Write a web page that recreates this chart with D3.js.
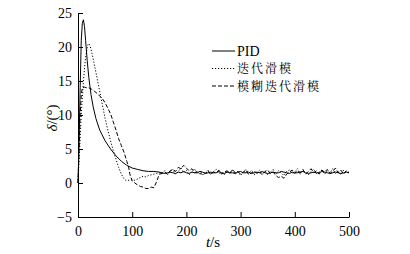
<!DOCTYPE html>
<html><head><meta charset="utf-8">
<script src="https://cdn.jsdelivr.net/npm/d3@7"></script>
<style>body{margin:0;background:#fff}svg{display:block}
.serif{font-family:"Liberation Serif",serif}
.cjk{font-family:"Noto Serif CJK SC","Noto Sans CJK SC",serif}
</style>
</head><body>
<svg id="c" width="410" height="254"></svg>
<script>
const xTicks = [0,100,200,300,400,500];
const yTicks = [-5,0,5,10,15,20,25];
const seriesNames = ["PID","迭代滑模","模糊迭代滑模"];

const tailT = d3.range(155, 501, 5);

const pidT = [0,2,4,6,8,10,12,14,17,20,24,28,33,40,50,60,70,80,90,100,110,120,130,140,150];
const pidV = [0,6,14,21,23.5,24,23,21,18,15.5,13,11.2,9.5,7.8,6.2,5,4,3.2,2.6,2.2,2.0,1.8,1.7,1.7,1.6];
const pidTail = [1.5,1.4,1.5,1.6,1.5,1.4,1.6,1.5,1.7,1.5,1.4,1.6,1.5,1.5,1.7,1.6,1.4,1.5,1.6,1.5,
1.5,1.7,1.5,1.4,1.6,1.5,1.5,1.4,1.6,1.7,1.5,1.5,1.6,1.4,1.5,1.6,1.5,1.7,1.5,1.4,
1.5,1.6,1.5,1.5,1.7,1.6,1.5,1.4,1.6,1.5,1.5,1.6,1.7,1.5,1.4,1.5,1.6,1.5,1.5,1.7,
1.6,1.5,1.4,1.5,1.6,1.5,1.4,1.5,1.6,1.5];

const ismT = [0,3,6,10,14,18,20,22,26,30,35,40,45,50,55,60,65,70,75,80,85,88,95,100,105,110,115,120,125,130,135,140,145,150];
const ismV = [0,5,10,15,18.5,20.3,20.5,20.3,19,17.5,15.5,13.5,11.5,9.5,7.8,6.2,4.8,3.5,2.3,1.3,0.6,0.4,0.4,0.5,0.4,0.6,0.8,1.0,0.9,1.1,1.2,1.3,1.4,1.5];
const ismTail = [1.4,1.8,1.2,1.6,2.0,1.3,1.7,2.2,1.5,1.9,1.2,1.6,2.1,1.4,1.8,1.1,1.5,1.9,1.3,1.7,
2.0,1.4,1.6,1.2,1.8,1.5,1.9,1.3,1.7,1.1,1.6,2.0,1.4,1.8,1.2,1.5,1.9,1.4,1.7,1.2,
1.6,2.0,1.3,1.8,1.5,1.1,1.7,1.9,1.4,1.6,2.1,1.3,1.8,1.5,1.2,1.7,2.0,1.4,1.6,1.9,
1.3,1.8,1.5,2.1,1.4,1.7,1.2,1.9,1.6,1.5];

const fismT = [0,2,4,6,8,12,16,20,25,30,35,40,45,50,55,60,65,70,75,80,85,90,93,96,100,105,110,115,120,125,130,135,140,145,150];
const fismV = [0,5,10,13,14,14.1,14,14,13.8,13.5,13.2,12.8,12.4,11.8,11,10.2,9,7.8,6.5,5.5,4.5,3.2,2.5,1.2,0.3,0,-0.3,-0.5,-0.6,-0.8,-0.8,-0.6,-0.7,0.2,1.3];
const fismTail = [1.4,1.6,1.3,1.8,2.0,1.7,2.3,2.1,2.6,2.2,1.8,2.1,1.5,1.7,1.3,1.6,1.4,1.8,1.2,1.6,
1.5,1.9,1.3,1.6,1.8,1.4,2.0,1.5,1.7,1.3,1.6,1.9,1.2,1.5,1.8,1.4,1.6,1.2,1.7,1.9,
1.4,1.6,1.1,0.8,1.0,0.7,1.3,1.6,1.9,1.4,1.8,1.5,2.0,1.3,1.7,2.1,1.5,1.8,1.3,1.9,
1.6,2.0,1.4,1.7,2.2,1.5,1.9,1.3,1.8,1.6];

function build(t, v, tail){
  return t.map((d,i)=>[d,v[i]]).concat(tailT.map((d,i)=>[d,tail[i]]));
}
const series = [
  {name: seriesNames[0], data: build(pidT,pidV,pidTail), dash: null},
  {name: seriesNames[1], data: build(ismT,ismV,ismTail), dash: "1.2,1.8"},
  {name: seriesNames[2], data: build(fismT,fismV,fismTail), dash: "4,2"}
];

const svg = d3.select("#c");
const x = d3.scaleLinear().domain([0,500]).range([78,349]);
const y = d3.scaleLinear().domain([-5,25]).range([217,13]);

const gx = svg.append("g").attr("transform","translate(0,217)")
  .call(d3.axisBottom(x).tickValues(xTicks).tickSizeInner(-5).tickSizeOuter(0).tickPadding(9));
const gy = svg.append("g").attr("transform","translate(78,0)")
  .call(d3.axisLeft(y).tickValues(yTicks).tickSizeInner(-5).tickSizeOuter(0).tickPadding(6)
    .tickFormat(d => d < 0 ? "\u2212" + Math.abs(d) : d));
[gx,gy].forEach(g=>{
  g.attr("font-family",null);
  g.select(".domain").attr("stroke","#000").attr("stroke-width",1);
  g.selectAll(".tick line").attr("stroke","#000");
  g.selectAll("text").attr("class","serif").style("font-size","14px").attr("fill","#000");
});

const line = d3.line().x(d=>x(d[0])).y(d=>y(d[1]));
series.forEach(s=>{
  svg.append("path").datum(s.data).attr("d",line)
    .attr("fill","none").attr("stroke","#000").attr("stroke-width",1)
    .attr("stroke-dasharray", s.dash);
});

// axis titles
const xt = svg.append("text").attr("class","serif").attr("x",213).attr("y",247).attr("text-anchor","middle")
  .style("font-size","15px");
xt.append("tspan").attr("font-style","italic").text("t");
xt.append("tspan").text("/s");

const yt = svg.append("text").attr("class","serif").attr("transform","translate(57,118) rotate(-90)").attr("text-anchor","middle")
  .style("font-size","15px");
yt.append("tspan").attr("font-style","italic").text("δ");
yt.append("tspan").text("/(°)");

// legend
const lg = svg.append("g");
series.forEach((s,i)=>{
  const yy = 51 + i*17.5;
  lg.append("line").attr("x1",212).attr("x2",235).attr("y1",yy).attr("y2",yy)
    .attr("stroke","#000").attr("stroke-width",1).attr("stroke-dasharray",s.dash);
  lg.append("text").attr("x",237).attr("y",yy+4.5)
    .attr("class", i===0 ? "serif" : "cjk")
    .style("font-size", i===0 ? "14px" : "12px")
    .style("letter-spacing", i===0 ? null : "2px")
    .attr("fill","#000").text(s.name);
});
</script>
</body></html>
